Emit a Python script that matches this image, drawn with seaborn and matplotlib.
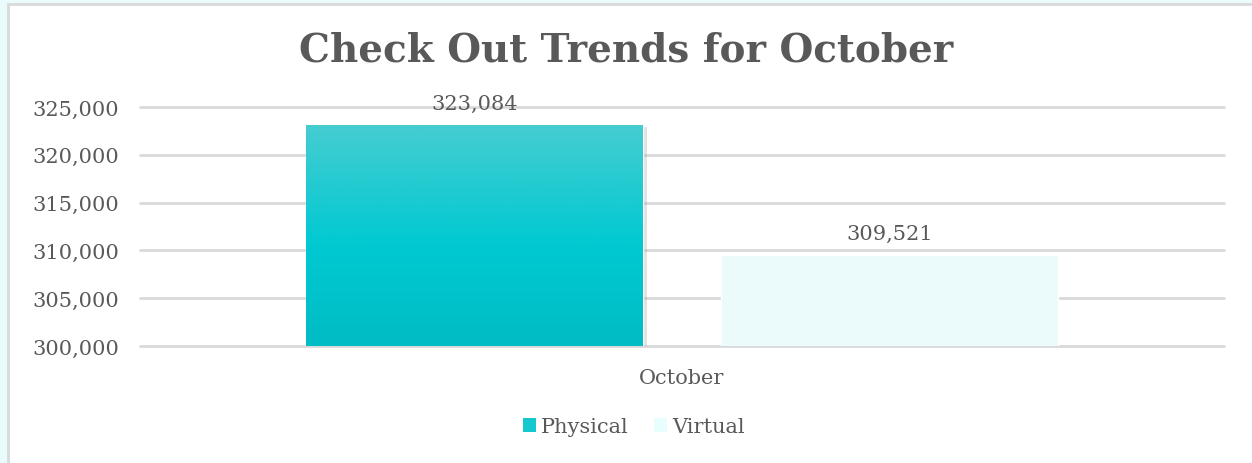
import numpy as np
import pandas as pd
import matplotlib
matplotlib.use("Agg")
import matplotlib.pyplot as plt
import matplotlib.patheffects as pe
from matplotlib.patches import Patch, Rectangle
from matplotlib.colors import LinearSegmentedColormap
from matplotlib.ticker import FuncFormatter
import seaborn as sns

# --------------------------
# Data
# --------------------------
months = ["October"]
series = ["Physical", "Virtual"]
checkouts = [323084, 309521]
y_ticks = [300000, 305000, 310000, 315000, 320000, 325000]

df = pd.DataFrame({
    "Month": months * len(series),
    "Type": series,
    "Checkouts": checkouts,
})

sns.set_theme(style="white")
plt.rcParams["font.family"] = ["DejaVu Serif"]

text_col = "#595959"
grid_col = "#D9D9D9"
colors = {"Physical": "#13C8CF", "Virtual": "#E8FDFD"}

fig = plt.figure(figsize=(12.52, 4.64), dpi=100)
fig.patch.set_facecolor("#EAFBFC")
# white chart area with a thin grey frame
fig.patches.append(Rectangle((8 / 1252, -0.05), 1.1, 1 - 5 / 464 + 0.05,
                             transform=fig.transFigure, facecolor="white",
                             edgecolor=grid_col, linewidth=2, zorder=-5))

ax = fig.add_axes([140 / 1252, 1 - 347 / 464, 1084 / 1252, (347 - 108) / 464])
ax.set_zorder(2)
ax.set_facecolor("none")

sns.barplot(data=df, x="Month", y="Checkouts", hue="Type", hue_order=series,
            palette=colors, width=0.767, gap=0.19, legend=False, ax=ax,
            zorder=3)

ax.set_ylim(y_ticks[0], y_ticks[-1])
ax.set_yticks(y_ticks)
ax.yaxis.set_major_formatter(FuncFormatter(lambda v, p: f"{int(v):,}"))
ax.grid(axis="y", color=grid_col, linewidth=2, zorder=0)
for gl in ax.get_ygridlines():
    gl.set_clip_on(False)
ax.set_axisbelow(True)
for s in ax.spines.values():
    s.set_visible(False)
ax.tick_params(axis="y", length=0, pad=15, labelsize=15, labelcolor=text_col)
ax.tick_params(axis="x", length=0, pad=16, labelsize=15, labelcolor=text_col)
ax.set_xlabel("")
ax.set_ylabel("")

# gradient fill + soft shadow on the Physical bar
grad = LinearSegmentedColormap.from_list(
    "teal", [(0.0, "#00BCC4"), (0.45, "#00C9D1"), (1.0, "#45CDD1")])
phys = ax.containers[0].patches[0]
phys.set_path_effects([pe.SimplePatchShadow(offset=(3, -1.5), shadow_rgbFace="#A0A0A0",
                                            alpha=0.3), pe.Normal()])
x0 = phys.get_x()
w, top = phys.get_width(), phys.get_y() + phys.get_height()
img = ax.imshow(np.linspace(0, 1, 256).reshape(-1, 1), cmap=grad, origin="lower",
                extent=[x0, x0 + w, y_ticks[0], top], aspect="auto", zorder=4)
img.set_clip_path(phys)
ax.set_xlim(-0.5, 0.5)
ax.set_ylim(y_ticks[0], y_ticks[-1])

# value labels
for cont in ax.containers:
    ax.bar_label(cont, labels=[f"{int(v):,}" for v in cont.datavalues],
                 padding=9, fontsize=15, color=text_col, zorder=5)

fig.text(0.5, 1 - 50 / 464, "Check Out Trends for October", ha="center", va="center",
         fontsize=28, fontweight="bold", color=text_col)

handles = [Patch(facecolor=colors[s], edgecolor="none") for s in series]
fig.legend(handles, series, loc="center", bbox_to_anchor=(634 / 1252, 1 - 428 / 464),
           ncol=2, frameon=False, fontsize=15, labelcolor=text_col,
           handlelength=0.62, handleheight=0.62, handletextpad=0.25, columnspacing=1.2)

fig.savefig("out.png", dpi=100, facecolor=fig.get_facecolor())
